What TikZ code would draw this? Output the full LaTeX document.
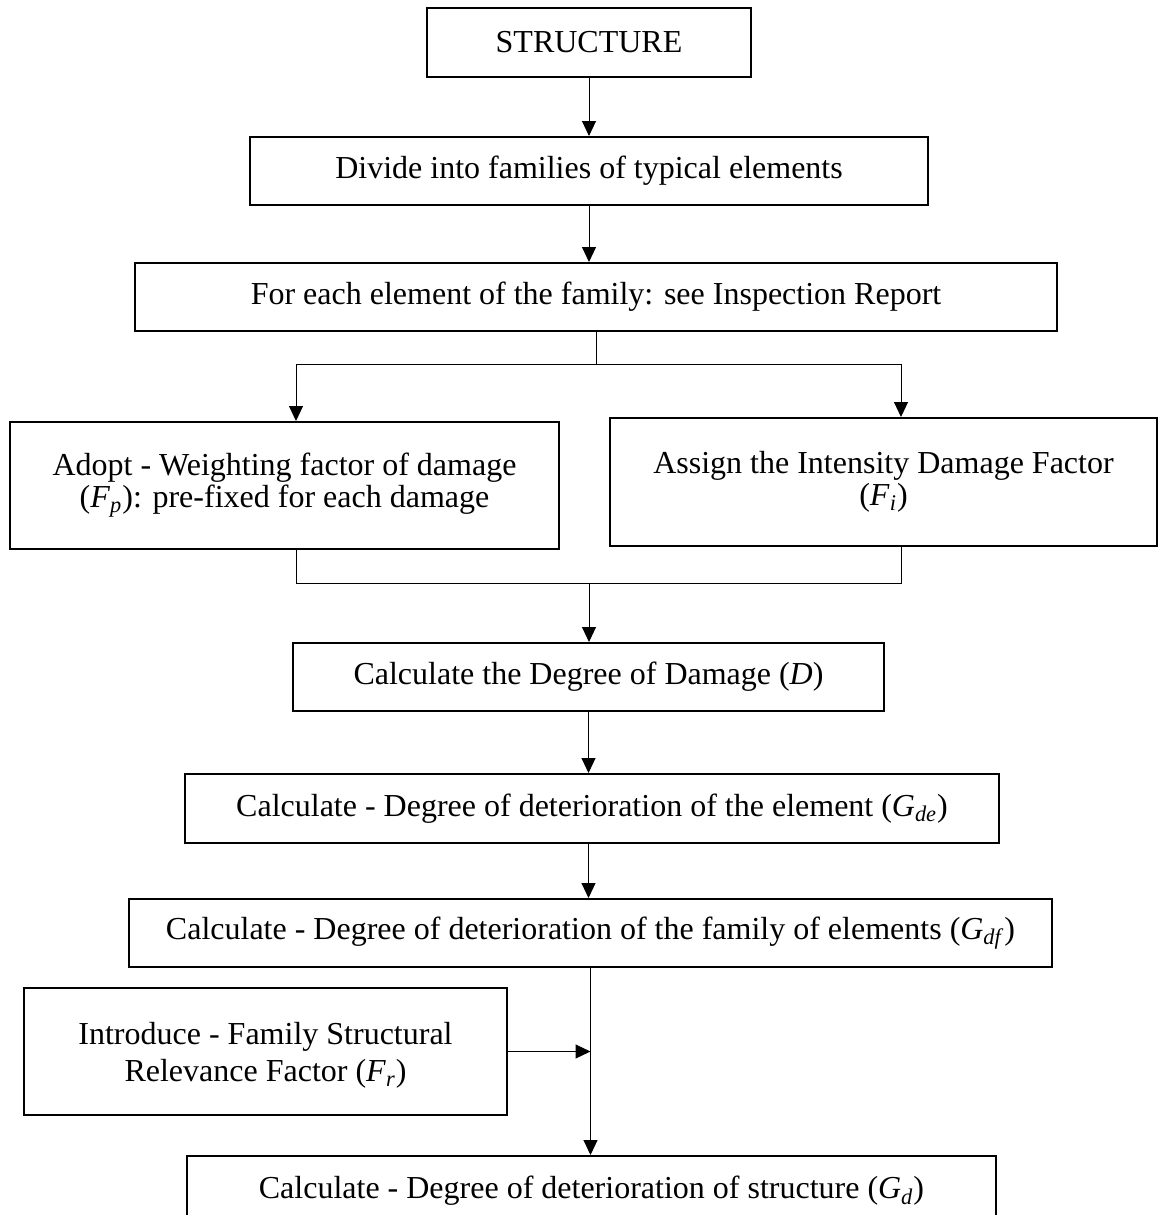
\documentclass[tikz,border=0pt]{standalone}
\usepackage{fontspec}
\setmainfont{Liberation Serif}
\usetikzlibrary{arrows.meta,positioning}
\newcommand{\fac}[2]{\textit{#1}\textsubscript{\textit{#2}}}
\tikzset{
  stepbox/.style={draw=black,line width=1pt,rectangle,align=center,
    inner sep=0pt,font=\fontsize{16}{16}\selectfont},
  flowarrow/.style={-{Triangle[length=7.5pt,width=7pt]},line width=0.5pt},
  flowline/.style={line width=0.5pt},
}
\begin{document}
\begin{tikzpicture}[x=0.5pt,y=-0.5pt,node distance=28pt]
  \useasboundingbox (0,0) rectangle (1159,1215);
  % main column
  \node[stepbox,minimum width=162pt,minimum height=34.5pt] (struct) at (589,42.5) {STRUCTURE};
  \node[stepbox,minimum width=339pt,minimum height=34pt,below=29pt of struct] (divide) {Divide into families of typical elements};
  \node[stepbox,minimum width=461pt,minimum height=34pt,below=28pt of divide,xshift=3.5pt] (foreach) {For each element of the family: see Inspection Report};
  % the two factors
  \node[stepbox,minimum width=274.5pt,minimum height=63.5pt] (adopt) at (284.5,485.5) {Adopt - Weighting factor of damage\\(\fac{F}{p}): pre-fixed for each damage};
  \node[stepbox,minimum width=273.5pt,minimum height=64pt] (assign) at (883.5,482) {Assign the Intensity Damage Factor\\(\fac{F}{i})};
  \node[stepbox,minimum width=295.5pt,minimum height=34pt] (dmg) at (588.5,677) {Calculate the Degree of Damage (\textit{D})};
  \node[stepbox,minimum width=407pt,minimum height=34.5pt,below=30.5pt of dmg,xshift=1.75pt] (gde) {Calculate - Degree of deterioration of the element (\fac{G}{de})};
  \node[stepbox,minimum width=461.5pt,minimum height=34pt,below=27pt of gde,xshift=-0.75pt] (gdf) {Calculate - Degree of deterioration of the family of elements (\fac{G}{df})};
  \node[stepbox,minimum width=241.5pt,minimum height=63.5pt,font=\fontsize{16}{18.5}\selectfont,text depth=0pt] (intro) at (265.5,1051.5) {Introduce - Family Structural\\Relevance Factor (\fac{F}{r})};
  \node[stepbox,minimum width=404.5pt,minimum height=35pt,below=93.5pt of gdf,xshift=0.5pt] (gd) {Calculate - Degree of deterioration of structure (\fac{G}{d})};
  % connectors
  \coordinate (split) at (595,364);
  \coordinate (splitL) at (296,364);
  \coordinate (splitR) at (901,364);
  \coordinate (joinL) at (296,583);
  \coordinate (joinR) at (901,583);
  \coordinate (join) at (589,583);
  \draw[flowarrow] (struct) -- (divide);
  \draw[flowarrow] (divide.south) -- (divide.south |- foreach.north);
  \draw[flowline] (foreach.south) -- (foreach.south |- split);
  \draw[flowline] (splitL) -- (splitR);
  \draw[flowarrow] (splitL) -- (splitL |- adopt.north);
  \draw[flowarrow] (splitR) -- (splitR |- assign.north);
  \draw[flowline] (joinL |- adopt.south) -- (joinL) -- (joinR) -- (joinR |- assign.south);
  \draw[flowarrow] (join) -- (join |- dmg.north);
  \draw[flowarrow] (dmg.south) -- (dmg.south |- gde.north);
  \draw[flowarrow] (dmg.south |- gde.south) -- (dmg.south |- gdf.north);
  \draw[flowarrow] (gdf.south) -- (gdf.south |- gd.north);
  \draw[flowarrow] (intro.east) -- (intro.east -| gdf.south);
\end{tikzpicture}
\end{document}
